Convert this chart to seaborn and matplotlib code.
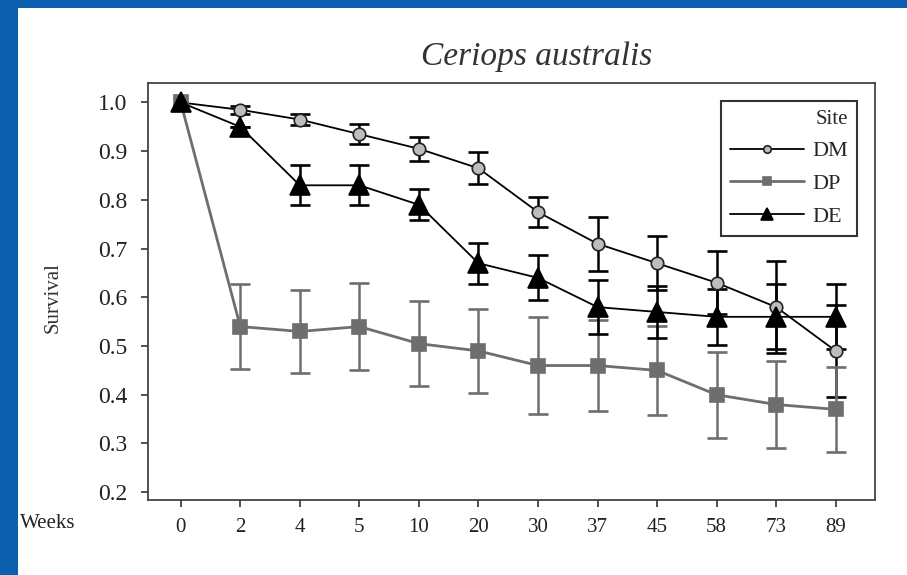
import numpy as np
import pandas as pd
import matplotlib
matplotlib.use("Agg")
import matplotlib.pyplot as plt
import seaborn as sns
from matplotlib.patches import Rectangle

# valores
semanas = ['0', '2', '4', '5', '10', '20', '30', '37', '45', '58', '73', '89']
dm = [1.00, 0.985, 0.965, 0.935, 0.905, 0.865, 0.775, 0.71, 0.67, 0.63, 0.58, 0.49]
dm_err = [0.0, 0.008, 0.012, 0.02, 0.025, 0.033, 0.03, 0.055, 0.055, 0.065, 0.095, 0.095]
dp = [1.00, 0.54, 0.53, 0.54, 0.505, 0.49, 0.46, 0.46, 0.45, 0.40, 0.38, 0.37]
dp_err = [0.0, 0.087, 0.086, 0.089, 0.087, 0.087, 0.10, 0.093, 0.092, 0.088, 0.09, 0.088]
de = [1.00, 0.95, 0.83, 0.83, 0.79, 0.67, 0.64, 0.58, 0.57, 0.56, 0.56, 0.56]
de_err = [0.0, 0.0, 0.041, 0.041, 0.032, 0.042, 0.046, 0.055, 0.053, 0.057, 0.067, 0.067]

sns.set_style('ticks')
plt.rcParams['font.family'] = ['Liberation Serif', 'DejaVu Serif']

fig = plt.figure(figsize=(9.07, 5.75), dpi=100)
fig.patch.set_facecolor('#0b5fae')
fig.patches.append(Rectangle((18 / 907, 0), 1, 1 - 8 / 575, transform=fig.transFigure,
                             facecolor='white', edgecolor='none', zorder=-10))
ax = fig.add_axes([148 / 907, 75 / 575, 727 / 907, 417 / 575])
ax.set_facecolor('white')

pos = np.arange(len(semanas))
series = [
    ('DM', dm, dm_err, 'black', 'o', 9, '#bdbdbd', '#222222', 1.3),
    ('DP', dp, dp_err, '#6e6e6e', 's', 9.5, '#6e6e6e', '#6e6e6e', 2.0),
    ('DE', de, de_err, 'black', '^', 14, 'black', 'black', 1.3),
]
for nome, vals, err, cor, mk, ms, fc, ec, lw in series:
    df = pd.DataFrame({'x': pos, 'y': vals})
    ax.errorbar(pos[1:], vals[1:], yerr=err[1:], fmt='none', ecolor=cor,
                elinewidth=1.8, capsize=7, capthick=1.9, zorder=2)
    sns.lineplot(data=df, x='x', y='y', ax=ax, color=cor, marker=mk, markersize=ms,
                 markerfacecolor=fc, markeredgecolor=ec, markeredgewidth=1.2,
                 linewidth=lw, label=nome, zorder=3)

ax.set_xlim(-0.55, 11.66)
ax.set_ylim(0.184, 1.04)
ax.set_xticks(pos)
ax.set_xticklabels(semanas)
ax.set_yticks(np.arange(0.2, 1.01, 0.1))
ax.set_yticklabels([f'{v:.1f}' for v in np.arange(0.2, 1.01, 0.1)])
ax.tick_params(axis='both', length=5, width=1.2, color='#333333',
               labelcolor='#222222', direction='out')
ax.tick_params(axis='x', labelsize=15, pad=8)
ax.tick_params(axis='y', labelsize=17, pad=10)
ax.set_xlabel('')
ax.set_ylabel('Survival', fontsize=15, color='#333333')
ax.yaxis.set_label_coords(-0.118, 0.486)
for s in ax.spines.values():
    s.set_visible(True)
    s.set_linewidth(1.3)
    s.set_color('#444444')

fig.text(20 / 907, 1 - 523 / 575, 'Weeks', fontsize=15, ha='left', va='center', color='#222222')
fig.text(0.592, 1 - 57 / 575, 'Ceriops australis', fontsize=24, style='italic',
         ha='center', va='center', color='#333333')

leg = ax.legend(title='Site', loc='upper right', fontsize=16, title_fontsize=15,
                frameon=True, fancybox=False, edgecolor='#333333', framealpha=1,
                markerscale=0.6, handlelength=3.3, borderaxespad=0.8,
                alignment='right', labelspacing=0.55, handletextpad=0.4)
leg.get_frame().set_linewidth(1.5)

fig.savefig('out.png', dpi=100, facecolor=fig.get_facecolor())
